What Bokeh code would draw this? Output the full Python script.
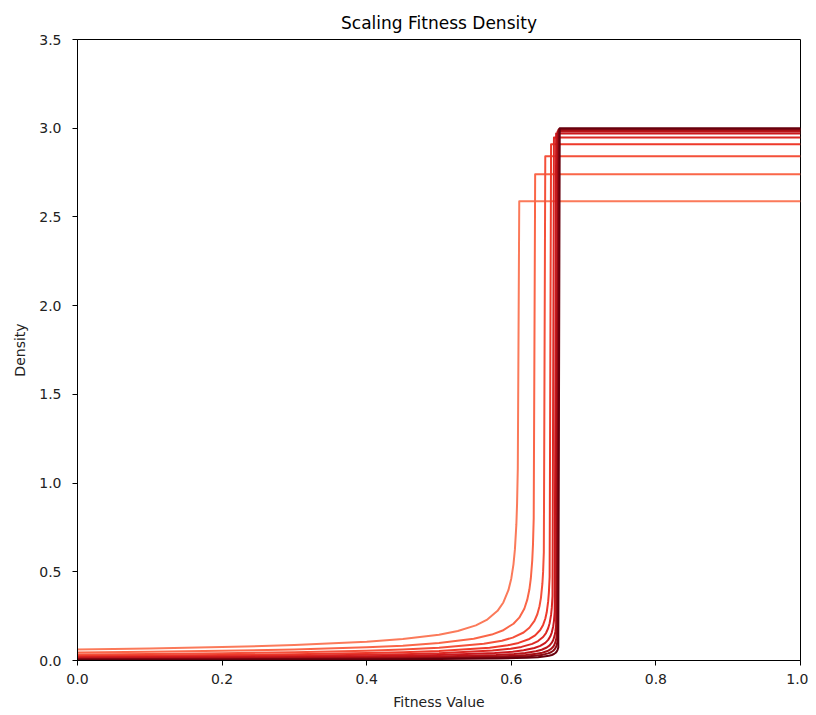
from bokeh.plotting import figure
from bokeh.models import Range1d, FixedTicker, PrintfTickFormatter
from bokeh.embed import file_html
from bokeh.resources import INLINE

# ---- data (fitness value, density) ----
curve1_x = [0.0, 0.1, 0.2, 0.3, 0.4, 0.45, 0.5, 0.526, 0.551, 0.566, 0.581, 0.589, 0.596, 0.600, 0.603, 0.605, 0.607, 0.608, 0.609, 0.611, 1.0]
curve1_y = [0.0620, 0.0679, 0.0757, 0.0870, 0.1056, 0.1209, 0.1456, 0.1664, 0.198, 0.2286, 0.280, 0.3270, 0.396, 0.4625, 0.542, 0.6261, 0.767, 0.8856, 1.085, 2.589, 2.589]

curve2_x = [0.0, 0.1, 0.2, 0.3, 0.4, 0.45, 0.5, 0.548, 0.573, 0.588, 0.603, 0.611, 0.618, 0.622, 0.625, 0.627, 0.629, 0.630, 0.631, 0.633, 1.0]
curve2_y = [0.0450, 0.0490, 0.0544, 0.0620, 0.0742, 0.0837, 0.0982, 0.1228, 0.146, 0.1688, 0.207, 0.2414, 0.292, 0.3414, 0.400, 0.4622, 0.566, 0.6537, 0.801, 2.741, 2.741]

curve3_x = [0.0, 0.1, 0.2, 0.3, 0.4, 0.45, 0.5, 0.562, 0.587, 0.602, 0.617, 0.625, 0.632, 0.636, 0.639, 0.641, 0.643, 0.644, 0.645, 0.647, 1.0]
curve3_y = [0.0340, 0.0370, 0.0409, 0.0464, 0.0550, 0.0616, 0.0713, 0.0938, 0.1117, 0.1289, 0.1579, 0.1844, 0.2233, 0.2608, 0.3059, 0.3531, 0.4327, 0.4994, 0.6119, 2.842, 2.842]

curve4_x = [0.0, 0.1, 0.2, 0.3, 0.4, 0.45, 0.5, 0.570, 0.595, 0.610, 0.625, 0.633, 0.640, 0.644, 0.647, 0.649, 0.651, 0.652, 0.653, 0.655, 1.0]
curve4_y = [0.0260, 0.0282, 0.0312, 0.0353, 0.0417, 0.0465, 0.0534, 0.0722, 0.0859, 0.0992, 0.1215, 0.1419, 0.1718, 0.2006, 0.2353, 0.2716, 0.3329, 0.3842, 0.4707, 2.910, 2.910]

curve5_x = [0.0, 0.1, 0.2, 0.3, 0.4, 0.45, 0.5, 0.574, 0.599, 0.614, 0.629, 0.637, 0.644, 0.648, 0.651, 0.653, 0.655, 0.656, 0.657, 0.659, 1.0]
curve5_y = [0.0200, 0.0217, 0.0240, 0.0271, 0.0319, 0.0355, 0.0407, 0.0557, 0.0663, 0.0766, 0.0938, 0.1095, 0.1326, 0.1548, 0.1816, 0.2097, 0.2569, 0.2965, 0.3633, 2.948, 2.948]

curve6_x = [0.0, 0.1, 0.2, 0.3, 0.4, 0.45, 0.5, 0.577, 0.602, 0.617, 0.632, 0.640, 0.647, 0.651, 0.654, 0.656, 0.658, 0.659, 0.660, 0.662, 1.0]
curve6_y = [0.0150, 0.0163, 0.0179, 0.0203, 0.0238, 0.0265, 0.0303, 0.0418, 0.0498, 0.0575, 0.0704, 0.0823, 0.0996, 0.1163, 0.1365, 0.1575, 0.1930, 0.2228, 0.2729, 2.970, 2.970]

curve7_x = [0.0, 0.1, 0.2, 0.3, 0.4, 0.45, 0.5, 0.579, 0.604, 0.619, 0.634, 0.642, 0.649, 0.653, 0.656, 0.658, 0.660, 0.661, 0.662, 0.664, 1.0]
curve7_y = [0.0110, 0.0119, 0.0132, 0.0149, 0.0174, 0.0194, 0.0221, 0.0307, 0.0366, 0.0422, 0.0517, 0.0604, 0.0731, 0.0854, 0.1002, 0.1157, 0.1418, 0.1636, 0.2004, 2.982, 2.982]

curve8_x = [0.0, 0.1, 0.2, 0.3, 0.4, 0.45, 0.5, 0.580, 0.605, 0.620, 0.635, 0.643, 0.650, 0.654, 0.657, 0.659, 0.661, 0.662, 0.663, 0.665, 1.0]
curve8_y = [0.0080, 0.0087, 0.0096, 0.0108, 0.0127, 0.0141, 0.0161, 0.0224, 0.0266, 0.0307, 0.0376, 0.0440, 0.0532, 0.0622, 0.0729, 0.0842, 0.1032, 0.1191, 0.1459, 2.990, 2.990]

curve9_x = [0.0, 0.1, 0.2, 0.3, 0.4, 0.45, 0.5, 0.581, 0.606, 0.621, 0.636, 0.644, 0.651, 0.655, 0.658, 0.660, 0.662, 0.663, 0.664, 0.666, 1.0]
curve9_y = [0.0060, 0.0065, 0.0072, 0.0081, 0.0095, 0.0105, 0.0120, 0.0168, 0.0200, 0.0231, 0.0283, 0.0330, 0.0400, 0.0467, 0.0548, 0.0633, 0.0775, 0.0895, 0.1096, 2.995, 2.995]

curve10_x = [0.0, 0.1, 0.2, 0.3, 0.4, 0.45, 0.5, 0.582, 0.607, 0.622, 0.637, 0.645, 0.652, 0.656, 0.659, 0.661, 0.663, 0.664, 0.665, 0.667, 1.0]
curve10_y = [0.0040, 0.0043, 0.0048, 0.0054, 0.0063, 0.0070, 0.0080, 0.0112, 0.0134, 0.0154, 0.0189, 0.0220, 0.0267, 0.0312, 0.0366, 0.0422, 0.0517, 0.0597, 0.0731, 3.000, 3.000]

x_ticks = [0.0, 0.2, 0.4, 0.6, 0.8, 1.0]
y_ticks = [0.0, 0.5, 1.0, 1.5, 2.0, 2.5, 3.0, 3.5]

colors = ["#fb7a5a", "#fa6648", "#f4503a", "#ee3a2b", "#dc2924",
          "#cb181d", "#b91419", "#a60f15", "#8a0812", "#67000d"]

curves = [
    (curve1_x, curve1_y), (curve2_x, curve2_y), (curve3_x, curve3_y),
    (curve4_x, curve4_y), (curve5_x, curve5_y), (curve6_x, curve6_y),
    (curve7_x, curve7_y), (curve8_x, curve8_y), (curve9_x, curve9_y),
    (curve10_x, curve10_y),
]

FONT = "DejaVu Sans"

p = figure(width=808, height=712, output_backend="svg", toolbar_location=None,
           x_range=Range1d(0, 1), y_range=Range1d(0, 3.5),
           title="Scaling Fitness Density",
           min_border_left=77, min_border_right=8, min_border_top=39, min_border_bottom=52)

for (xs, ys), c in zip(curves, colors):
    p.line(xs, ys, line_color=c, line_width=2, line_join="round")

p.title.align = "center"
p.title.text_font = FONT
p.title.text_font_size = "17px"
p.title.text_font_style = "normal"
p.title.text_color = "black"
p.title.standoff = 14

p.xgrid.visible = False
p.ygrid.visible = False
p.outline_line_color = "black"
p.outline_line_width = 1
p.outline_line_alpha = 1.0
p.background_fill_color = "white"
p.border_fill_color = "white"

p.xaxis.ticker = FixedTicker(ticks=x_ticks)
p.yaxis.ticker = FixedTicker(ticks=y_ticks)
p.xaxis.formatter = PrintfTickFormatter(format="%.1f")
p.yaxis.formatter = PrintfTickFormatter(format="%.1f")
p.xaxis.axis_label = "Fitness Value"
p.yaxis.axis_label = "Density"

for ax in (p.xaxis[0], p.yaxis[0]):
    ax.major_tick_out = 5
    ax.major_tick_in = 0
    ax.minor_tick_out = 0
    ax.minor_tick_in = 0
    ax.major_tick_line_color = "black"
    ax.axis_line_color = "black"
    ax.major_label_text_font = FONT
    ax.major_label_text_font_size = "14px"
    ax.major_label_text_color = "#222222"
    ax.axis_label_text_font = FONT
    ax.axis_label_text_font_size = "14px"
    ax.axis_label_text_font_style = "normal"
    ax.axis_label_text_color = "#222222"

p.xaxis[0].major_label_standoff = 8
p.xaxis[0].axis_label_standoff = 7
p.yaxis[0].major_label_standoff = 11
p.yaxis[0].axis_label_standoff = 8

open("out.html", "w").write(file_html(p, INLINE))
